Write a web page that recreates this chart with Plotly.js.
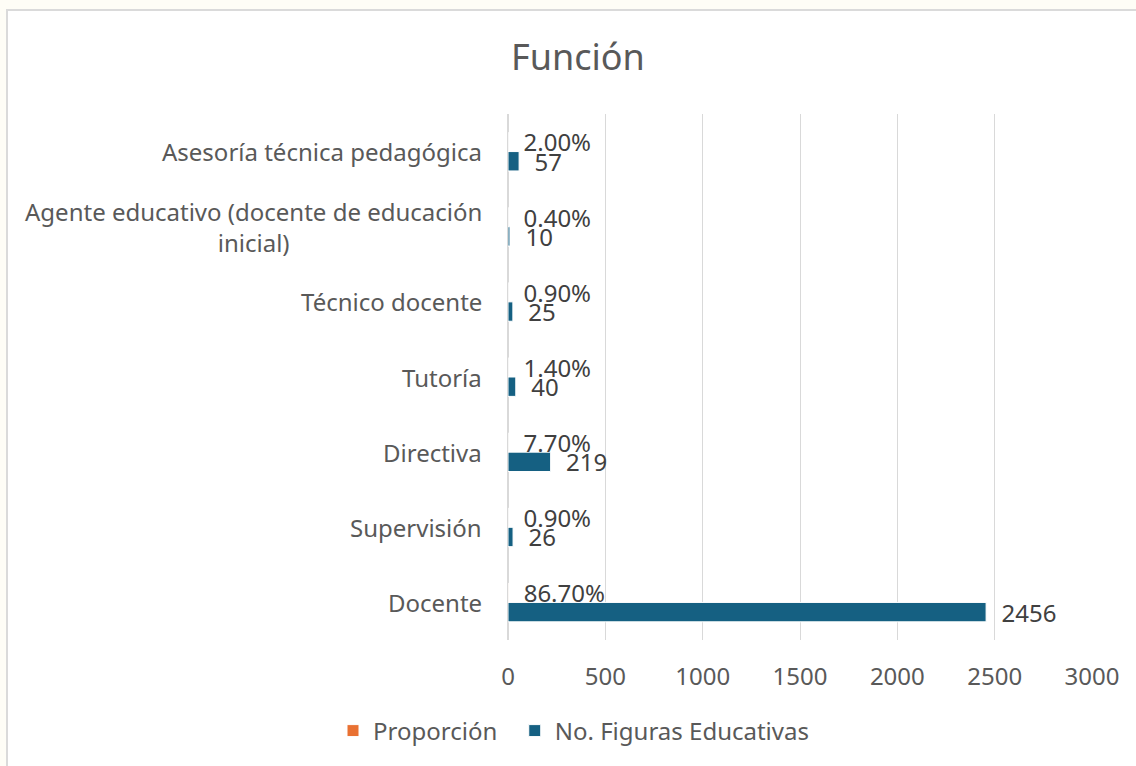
<!DOCTYPE html>
<html>
<head>
<meta charset="utf-8">
<script src="https://cdn.plot.ly/plotly-3.0.1.min.js"></script>
<style>
  html, body { margin: 0; padding: 0; background: #fefdf6; width: 1136px; height: 766px; overflow: hidden; }
  #frame { position: absolute; left: 6px; top: 9px; width: 1200px; height: 800px; background: #ffffff; border: 2px solid #dadada; }
  #chart { position: absolute; left: 0; top: 0; width: 1136px; height: 766px; }
</style>
</head>
<body>
<div id="frame"></div>
<div id="chart"></div>
<script>
// Categories, bottom to top
const categories = [
  "Docente",
  "Supervisión",
  "Directiva",
  "Tutoría",
  "Técnico docente",
  "Agente educativo (docente de educación<br>inicial)",
  "Asesoría técnica pedagógica"
];
const proporcion = [0.867, 0.009, 0.077, 0.014, 0.009, 0.004, 0.020];
const figuras = [2456, 26, 219, 40, 25, 10, 57];
const xTicks = [0, 500, 1000, 1500, 2000, 2500, 3000];
const seriesNames = ["Proporción", "No. Figuras Educativas"];

const FONT = "Noto Sans, Open Sans, sans-serif";
const PAD = "\u00a0\u00a0";

const traceFig = {
  type: "bar", orientation: "h", name: seriesNames[1],
  y: categories, x: figuras,
  marker: { color: "#156082", line: { color: "#ffffff", width: 1 } },
  texttemplate: PAD + "%{x}", textposition: "outside", constraintext: "none",
  textfont: { family: FONT, size: 24, color: "#404040" },
  cliponaxis: false, legendrank: 2, hoverinfo: "none"
};
const traceProp = {
  type: "bar", orientation: "h", name: seriesNames[0] + "\u00a0\u00a0",
  y: categories, x: proporcion,
  marker: { color: "#E97132", line: { color: "#ffffff", width: 1 } },
  texttemplate: PAD + "%{x:.2%}", textposition: "outside", constraintext: "none",
  textfont: { family: FONT, size: 24, color: "#404040" },
  cliponaxis: false, legendrank: 1, hoverinfo: "none"
};

const annotations = categories.map(c => ({
  xref: "paper", yref: "y", x: 0, y: c,
  xanchor: "right", yanchor: "middle", xshift: -24,
  text: c, showarrow: false, align: "center",
  font: { family: FONT, size: 24, color: "#595959" }
}));

const layout = {
  width: 1136, height: 766,
  margin: { l: 508, r: 44, t: 114, b: 126, pad: 0 },
  paper_bgcolor: "rgba(0,0,0,0)", plot_bgcolor: "rgba(0,0,0,0)",
  barmode: "group", bargap: 0.484, bargroupgap: 0,
  uniformtext: { mode: false },
  title: {
    text: "Función", xref: "container", yref: "container",
    x: 0.5088, xanchor: "center", y: 1 - 57 / 766, yanchor: "middle",
    font: { family: FONT, size: 36, color: "#595959" }
  },
  xaxis: {
    range: [0, 3000], tickvals: xTicks, ticktext: xTicks.map(String),
    showgrid: true, gridcolor: "#d9d9d9", gridwidth: 1,
    zeroline: true, zerolinecolor: "#d9d9d9", zerolinewidth: 1.5,
    showline: false, ticks: "", ticklabelstandoff: 20,
    tickfont: { family: FONT, size: 24, color: "#595959" }, fixedrange: true
  },
  yaxis: {
    type: "category", categoryorder: "array", categoryarray: categories,
    showticklabels: false, showgrid: false, zeroline: false, showline: false, ticks: "",
    fixedrange: true
  },
  showlegend: true,
  legend: {
    orientation: "h", xref: "container", yref: "container",
    x: 333 / 1136, xanchor: "left", y: 1 - 731 / 766, yanchor: "middle",
    font: { family: FONT, size: 24, color: "#595959" },
    bgcolor: "rgba(0,0,0,0)", itemclick: false, itemdoubleclick: false
  },
  annotations: annotations
};

Plotly.newPlot("chart", [traceFig, traceProp], layout, { staticPlot: true, displayModeBar: false });
</script>
</body>
</html>
